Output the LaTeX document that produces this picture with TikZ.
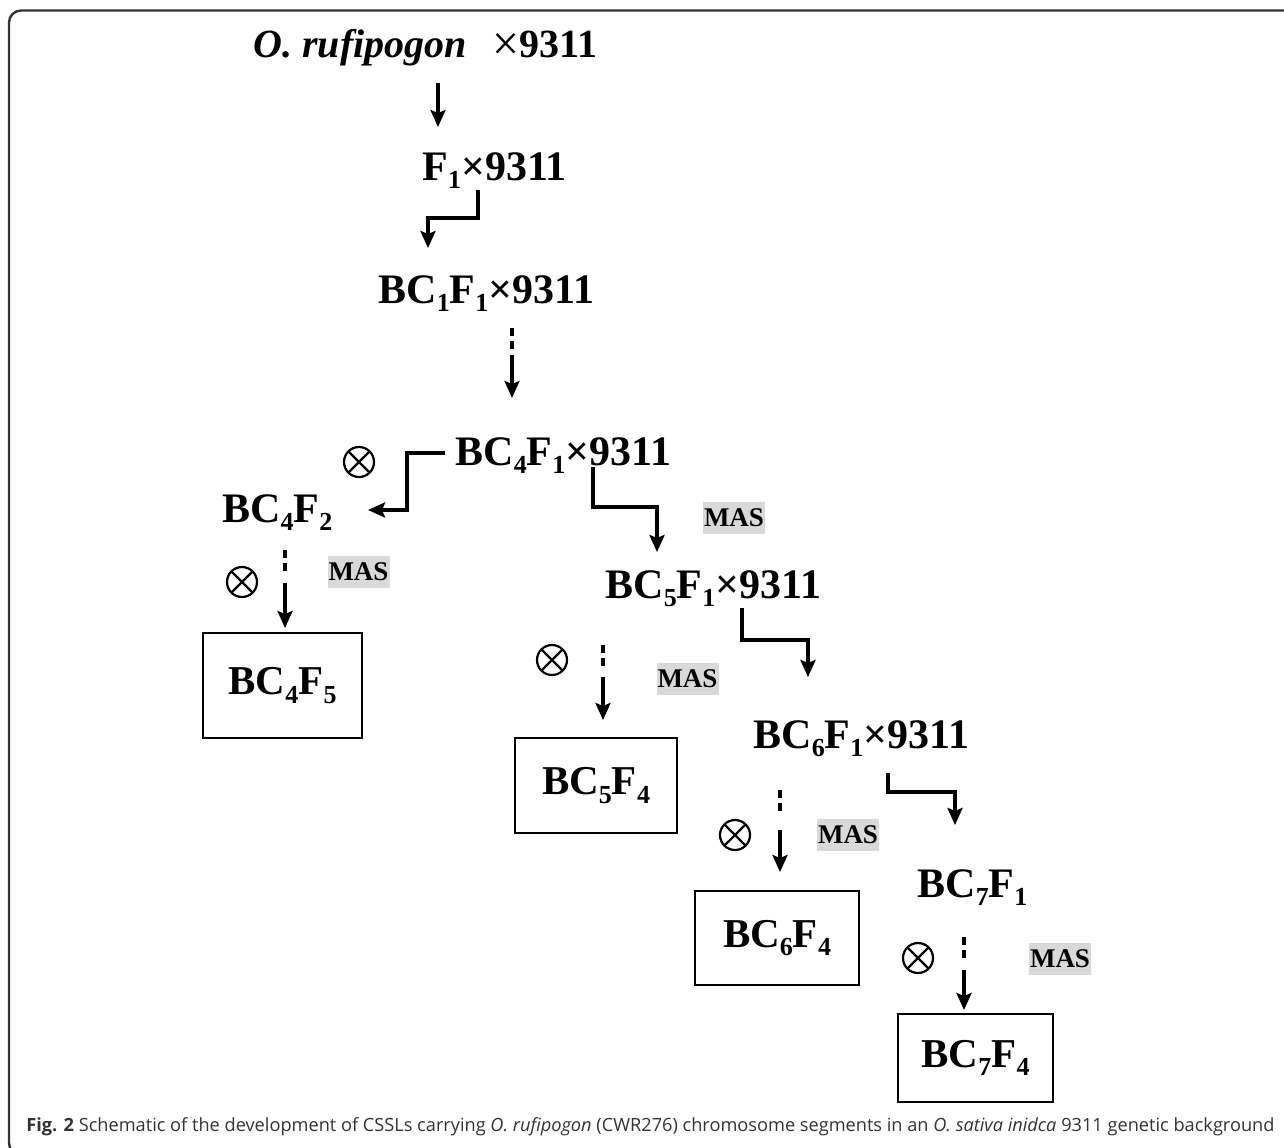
\documentclass[tikz,border=0pt]{standalone}
\usepackage{fontspec}
\setmainfont{Liberation Serif}
\newfontfamily\capfont{Open Sans}
\usetikzlibrary{arrows.meta}
\newcommand\lsb[1]{\raisebox{-0.2em}{\fontsize{13}{13}\selectfont #1}}
\begin{document}
\begin{tikzpicture}[x=0.5pt,y=-0.5pt,
  lbl/.style={anchor=base west, inner sep=0pt, font=\fontsize{21}{21}\selectfont\bfseries},
  resbox/.style={draw, line width=1pt, inner sep=0pt, font=\fontsize{20.5}{20.5}\selectfont\bfseries},
  mas/.style={fill=black!15, inner xsep=0.5pt, inner ysep=0pt, minimum height=16pt, font=\fontsize{13.5}{13.5}\selectfont\bfseries},
  selfx/.style={circle, draw, line width=1.1pt, minimum size=15pt, inner sep=0pt,
    path picture={\draw[line width=1.1pt] (path picture bounding box.north west) -- (path picture bounding box.south east)
      (path picture bounding box.north east) -- (path picture bounding box.south west);}},
  arr/.style={line width=1.6pt, -{Stealth[length=8.5pt, width=7.5pt, inset=1.5pt]}},
  dsh/.style={line width=1.6pt, dash pattern=on 4pt off 2.5pt},
  elbow/.style={line width=1.8pt, -{Stealth[length=8.5pt, width=7.5pt, inset=1.5pt]}}
]
\useasboundingbox (0,0) rectangle (1284,1147);
% frame
\begin{scope}
\clip (0,0) rectangle (1284,1147);
\draw[line width=1.2pt, black!80, rounded corners=6pt] (1300,10.5) -- (9,10.5) -- (9,1155) -- (1300,1155);
\end{scope}

% labels
\node[lbl, font=\fontsize{20}{20}\selectfont\bfseries] (title) at (253,57) {{\itshape O. rufipogon}\hspace{13pt}\raisebox{-1.5pt}{\resizebox{13.5pt}{13.5pt}{\mdseries ×}}9311};
\node[lbl] (f1) at (422,180) {F\lsb{1}×9311};
\node[lbl] (bc1) at (378,303) {BC\lsb{1}F\lsb{1}×9311};
\node[lbl] (bc4) at (455,465) {BC\lsb{4}F\lsb{1}×9311};
\node[lbl] (bc4f2) at (222,522) {BC\lsb{4}F\lsb{2}};
\node[lbl] (bc5) at (605,598) {BC\lsb{5}F\lsb{1}×9311};
\node[lbl] (bc6) at (753,748) {BC\lsb{6}F\lsb{1}×9311};
\node[lbl] (bc7) at (917,897) {BC\lsb{7}F\lsb{1}};

% result boxes
\node[resbox, minimum width=79.5pt, minimum height=52.5pt] (r4) at (282.5,685.5) {BC\lsb{4}F\lsb{5}};
\node[resbox, minimum width=81pt, minimum height=47.5pt] (r5) at (596,785.5) {BC\lsb{5}F\lsb{4}};
\node[resbox, minimum width=82pt, minimum height=47pt] (r6) at (777,938) {BC\lsb{6}F\lsb{4}};
\node[resbox, minimum width=77.5pt, minimum height=44pt] (r7) at (975.5,1058) {BC\lsb{7}F\lsb{4}};

% MAS labels
\node[mas] (m1) at (358.5,572) {MAS};
\node[mas] (m2) at (734,518) {MAS};
\node[mas] (m3) at (687.5,679) {MAS};
\node[mas] (m4) at (848,835) {MAS};
\node[mas] (m5) at (1060,958.5) {MAS};

% selfing symbols
\node[selfx] (s1) at (359,462) {};
\node[selfx] (s2) at (242,582) {};
\node[selfx] (s3) at (552,660) {};
\node[selfx] (s4) at (735,835) {};
\node[selfx] (s5) at (918,958) {};

% connector coordinates
\coordinate (a1s) at (438,83);  \coordinate (a1e) at (438,127);
\coordinate (a2s) at (478,190); \coordinate (a2e) at (428,248);
\coordinate (a3d) at (512,328); \coordinate (a3m) at (512,349); \coordinate (a3s) at (512,355); \coordinate (a3e) at (512,398);
\coordinate (a4s) at (445,453); \coordinate (a4e) at (368,510);
\coordinate (a5s) at (593,467); \coordinate (a5e) at (657,552);
\coordinate (a6d) at (285,550); \coordinate (a6m) at (285,571); \coordinate (a6s) at (285,583); \coordinate (a6e) at (285,628);
\coordinate (a7s) at (742,608); \coordinate (a7e) at (808,677);
\coordinate (a8d) at (603,645); \coordinate (a8m) at (603,666); \coordinate (a8s) at (603,677); \coordinate (a8e) at (603,720);
\coordinate (a9s) at (888,773); \coordinate (a9e) at (955,825);
\coordinate (a10d) at (780,790); \coordinate (a10m) at (780,811); \coordinate (a10s) at (780,830); \coordinate (a10e) at (780,872);
\coordinate (a11d) at (964,937); \coordinate (a11m) at (964,958); \coordinate (a11s) at (964,970); \coordinate (a11e) at (964,1010);

% connectors
\draw[arr] (a1s) -- (a1e);
\draw[elbow] (a2s) |- (450,218) -| (a2e);
\draw[dsh] (a3d) -- (a3m);
\draw[arr] (a3s) -- (a3e);
\draw[elbow] (a4s) -| (407,480) |- (a4e);
\draw[elbow] (a5s) |- (620,507) -| (a5e);
\draw[dsh] (a6d) -- (a6m);
\draw[arr] (a6s) -- (a6e);
\draw[elbow] (a7s) |- (780,640) -| (a7e);
\draw[dsh] (a8d) -- (a8m);
\draw[arr] (a8s) -- (a8e);
\draw[elbow] (a9s) |- (920,792) -| (a9e);
\draw[dsh] (a10d) -- (a10m);
\draw[arr] (a10s) -- (a10e);
\draw[dsh] (a11d) -- (a11m);
\draw[arr] (a11s) -- (a11e);

% caption
\node[anchor=base west, inner sep=0pt, text=black!80] (cap) at (26,1131)
  {\resizebox{624pt}{!}{\capfont\textbf{Fig. 2} Schematic of the development of CSSLs carrying \textit{O. rufipogon} (CWR276) chromosome segments in an \textit{O. sativa inidca} 9311 genetic background}};
\end{tikzpicture}
\end{document}
